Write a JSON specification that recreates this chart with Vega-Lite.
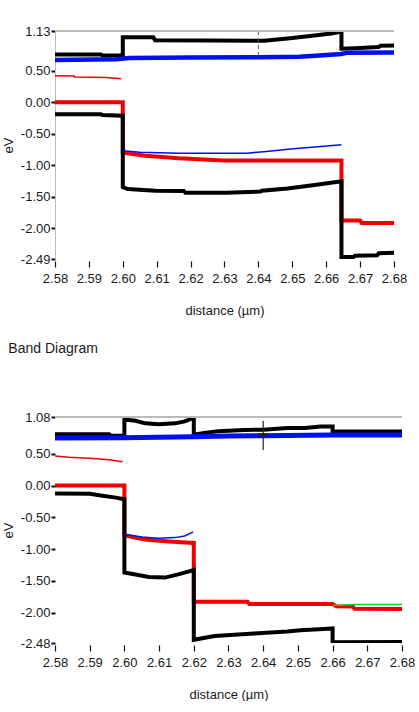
{
  "$schema": "https://vega.github.io/schema/vega-lite/v6.json",
  "background": "white",
  "padding": {"left": 2, "top": 25, "right": 0, "bottom": 0},
  "spacing": 25,
  "config": {
    "view": {"stroke": null},
    "axis": {
      "grid": false,
      "labelFont": "Liberation Sans Narrow, Liberation Sans, Arial, sans-serif",
      "labelFontSize": 13,
      "labelColor": "#1a1a1a",
      "titleFont": "Liberation Sans Narrow, Liberation Sans, Arial, sans-serif",
      "titleFontSize": 13,
      "titleFontWeight": "normal",
      "titleColor": "#1a1a1a",
      "tickColor": "#111111"
    },
    "axisX": {
      "domain": false,
      "offset": 2,
      "tickSize": 6,
      "tickWidth": 1.2,
      "labelPadding": 5,
      "labelOverlap": false,
      "labelFlush": false,
      "titlePadding": 19,
      "values": [2.58, 2.59, 2.6, 2.61, 2.62, 2.63, 2.64, 2.65, 2.66, 2.67, 2.68],
      "format": ".2f"
    },
    "axisY": {
      "domainColor": "#bbbbbb",
      "tickSize": 4,
      "tickWidth": 2,
      "labelPadding": 1,
      "titlePadding": 5,
      "labelOverlap": false,
      "labelFlush": false,
      "labelExpr": "replace(format(datum.value, '.2f'), '\u2212', '-')"
    },
    "title": {
      "font": "Liberation Sans Narrow, Liberation Sans, Arial, sans-serif",
      "fontSize": 14,
      "fontWeight": "normal",
      "color": "#1a1a1a"
    }
  },
  "datasets": {
    "top": [
      {"band": "Fp", "i": 0, "x": 2.58, "y": 0.0},
      {"band": "Fp", "i": 1, "x": 2.6, "y": 0.0},
      {"band": "Fp", "i": 2, "x": 2.6, "y": -0.8},
      {"band": "Fp", "i": 3, "x": 2.6066, "y": -0.85},
      {"band": "Fp", "i": 4, "x": 2.6166, "y": -0.89},
      {"band": "Fp", "i": 5, "x": 2.6296, "y": -0.925},
      {"band": "Fp", "i": 6, "x": 2.6645, "y": -0.925},
      {"band": "Fp", "i": 7, "x": 2.6645, "y": -1.88},
      {"band": "Fp", "i": 8, "x": 2.67, "y": -1.88},
      {"band": "Fp", "i": 9, "x": 2.6705, "y": -1.92},
      {"band": "Fp", "i": 10, "x": 2.68, "y": -1.92},

      {"band": "Ec", "i": 0, "x": 2.58, "y": 0.755},
      {"band": "Ec", "i": 1, "x": 2.5935, "y": 0.755},
      {"band": "Ec", "i": 2, "x": 2.594, "y": 0.74},
      {"band": "Ec", "i": 3, "x": 2.6, "y": 0.74},
      {"band": "Ec", "i": 4, "x": 2.6, "y": 1.03},
      {"band": "Ec", "i": 5, "x": 2.609, "y": 1.03},
      {"band": "Ec", "i": 6, "x": 2.6095, "y": 0.985},
      {"band": "Ec", "i": 7, "x": 2.625, "y": 0.98},
      {"band": "Ec", "i": 8, "x": 2.6417, "y": 0.975},
      {"band": "Ec", "i": 9, "x": 2.6486, "y": 1.01},
      {"band": "Ec", "i": 10, "x": 2.6546, "y": 1.045},
      {"band": "Ec", "i": 11, "x": 2.6615, "y": 1.09},
      {"band": "Ec", "i": 12, "x": 2.6645, "y": 1.12},
      {"band": "Ec", "i": 13, "x": 2.6645, "y": 0.85},
      {"band": "Ec", "i": 14, "x": 2.67, "y": 0.86},
      {"band": "Ec", "i": 15, "x": 2.6755, "y": 0.875},
      {"band": "Ec", "i": 16, "x": 2.676, "y": 0.895},
      {"band": "Ec", "i": 17, "x": 2.68, "y": 0.9},

      {"band": "Ev", "i": 0, "x": 2.58, "y": -0.19},
      {"band": "Ev", "i": 1, "x": 2.5935, "y": -0.19},
      {"band": "Ev", "i": 2, "x": 2.594, "y": -0.205},
      {"band": "Ev", "i": 3, "x": 2.6, "y": -0.215},
      {"band": "Ev", "i": 4, "x": 2.6, "y": -1.35},
      {"band": "Ev", "i": 5, "x": 2.6015, "y": -1.38},
      {"band": "Ev", "i": 6, "x": 2.6096, "y": -1.405},
      {"band": "Ev", "i": 7, "x": 2.618, "y": -1.41},
      {"band": "Ev", "i": 8, "x": 2.6185, "y": -1.44},
      {"band": "Ev", "i": 9, "x": 2.6306, "y": -1.44},
      {"band": "Ev", "i": 10, "x": 2.6406, "y": -1.42},
      {"band": "Ev", "i": 11, "x": 2.641, "y": -1.405},
      {"band": "Ev", "i": 12, "x": 2.6486, "y": -1.37},
      {"band": "Ev", "i": 13, "x": 2.6566, "y": -1.315},
      {"band": "Ev", "i": 14, "x": 2.6645, "y": -1.255},
      {"band": "Ev", "i": 15, "x": 2.6645, "y": -2.46},
      {"band": "Ev", "i": 16, "x": 2.668, "y": -2.46},
      {"band": "Ev", "i": 17, "x": 2.6685, "y": -2.44},
      {"band": "Ev", "i": 18, "x": 2.675, "y": -2.43},
      {"band": "Ev", "i": 19, "x": 2.6755, "y": -2.4},
      {"band": "Ev", "i": 20, "x": 2.68, "y": -2.39},

      {"band": "Fn", "i": 0, "x": 2.58, "y": 0.67},
      {"band": "Fn", "i": 1, "x": 2.598, "y": 0.68},
      {"band": "Fn", "i": 2, "x": 2.602, "y": 0.7},
      {"band": "Fn", "i": 3, "x": 2.62, "y": 0.71},
      {"band": "Fn", "i": 4, "x": 2.64, "y": 0.715},
      {"band": "Fn", "i": 5, "x": 2.652, "y": 0.72},
      {"band": "Fn", "i": 6, "x": 2.658, "y": 0.74},
      {"band": "Fn", "i": 7, "x": 2.6645, "y": 0.765},
      {"band": "Fn", "i": 8, "x": 2.666, "y": 0.785},
      {"band": "Fn", "i": 9, "x": 2.68, "y": 0.79},

      {"band": "FpThin", "i": 0, "x": 2.58, "y": 0.42},
      {"band": "FpThin", "i": 1, "x": 2.5857, "y": 0.415},
      {"band": "FpThin", "i": 2, "x": 2.5858, "y": 0.4},
      {"band": "FpThin", "i": 3, "x": 2.595, "y": 0.39},
      {"band": "FpThin", "i": 4, "x": 2.5995, "y": 0.37},

      {"band": "FnThin", "i": 0, "x": 2.6, "y": -0.77},
      {"band": "FnThin", "i": 1, "x": 2.605, "y": -0.795},
      {"band": "FnThin", "i": 2, "x": 2.6166, "y": -0.812},
      {"band": "FnThin", "i": 3, "x": 2.6366, "y": -0.81},
      {"band": "FnThin", "i": 4, "x": 2.6416, "y": -0.786},
      {"band": "FnThin", "i": 5, "x": 2.6495, "y": -0.744},
      {"band": "FnThin", "i": 6, "x": 2.6575, "y": -0.707},
      {"band": "FnThin", "i": 7, "x": 2.6645, "y": -0.675}
    ],
    "bottom": [
      {"band": "Fp", "i": 0, "x": 2.58, "y": 0.0},
      {"band": "Fp", "i": 1, "x": 2.6, "y": 0.0},
      {"band": "Fp", "i": 2, "x": 2.6, "y": -0.78},
      {"band": "Fp", "i": 3, "x": 2.603, "y": -0.82},
      {"band": "Fp", "i": 4, "x": 2.606, "y": -0.85},
      {"band": "Fp", "i": 5, "x": 2.61, "y": -0.87},
      {"band": "Fp", "i": 6, "x": 2.615, "y": -0.89},
      {"band": "Fp", "i": 7, "x": 2.62, "y": -0.905},
      {"band": "Fp", "i": 8, "x": 2.62, "y": -1.83},
      {"band": "Fp", "i": 9, "x": 2.6355, "y": -1.83},
      {"band": "Fp", "i": 10, "x": 2.636, "y": -1.865},
      {"band": "Fp", "i": 11, "x": 2.66, "y": -1.865},
      {"band": "Fp", "i": 12, "x": 2.661, "y": -1.9},
      {"band": "Fp", "i": 13, "x": 2.6658, "y": -1.905},
      {"band": "Fp", "i": 14, "x": 2.6663, "y": -1.94},
      {"band": "Fp", "i": 15, "x": 2.68, "y": -1.945},

      {"band": "Ec", "i": 0, "x": 2.58, "y": 0.81},
      {"band": "Ec", "i": 1, "x": 2.5956, "y": 0.81},
      {"band": "Ec", "i": 2, "x": 2.596, "y": 0.79},
      {"band": "Ec", "i": 3, "x": 2.6, "y": 0.785},
      {"band": "Ec", "i": 4, "x": 2.6, "y": 1.04},
      {"band": "Ec", "i": 5, "x": 2.6032, "y": 1.02},
      {"band": "Ec", "i": 6, "x": 2.606, "y": 0.98},
      {"band": "Ec", "i": 7, "x": 2.6098, "y": 0.965},
      {"band": "Ec", "i": 8, "x": 2.6146, "y": 0.98},
      {"band": "Ec", "i": 9, "x": 2.6174, "y": 1.01},
      {"band": "Ec", "i": 10, "x": 2.62, "y": 1.07},
      {"band": "Ec", "i": 11, "x": 2.62, "y": 0.8},
      {"band": "Ec", "i": 12, "x": 2.623, "y": 0.83},
      {"band": "Ec", "i": 13, "x": 2.627, "y": 0.855},
      {"band": "Ec", "i": 14, "x": 2.6345, "y": 0.875},
      {"band": "Ec", "i": 15, "x": 2.64, "y": 0.88},
      {"band": "Ec", "i": 16, "x": 2.647, "y": 0.905},
      {"band": "Ec", "i": 17, "x": 2.652, "y": 0.905},
      {"band": "Ec", "i": 18, "x": 2.6565, "y": 0.93},
      {"band": "Ec", "i": 19, "x": 2.66, "y": 0.93},
      {"band": "Ec", "i": 20, "x": 2.66, "y": 0.85},
      {"band": "Ec", "i": 21, "x": 2.68, "y": 0.85},

      {"band": "Ev", "i": 0, "x": 2.58, "y": -0.125},
      {"band": "Ev", "i": 1, "x": 2.59, "y": -0.13},
      {"band": "Ev", "i": 2, "x": 2.5937, "y": -0.16},
      {"band": "Ev", "i": 3, "x": 2.5975, "y": -0.19},
      {"band": "Ev", "i": 4, "x": 2.6, "y": -0.215},
      {"band": "Ev", "i": 5, "x": 2.6, "y": -1.37},
      {"band": "Ev", "i": 6, "x": 2.6032, "y": -1.4},
      {"band": "Ev", "i": 7, "x": 2.607, "y": -1.44},
      {"band": "Ev", "i": 8, "x": 2.6117, "y": -1.45},
      {"band": "Ev", "i": 9, "x": 2.6155, "y": -1.4},
      {"band": "Ev", "i": 10, "x": 2.6184, "y": -1.355},
      {"band": "Ev", "i": 11, "x": 2.62, "y": -1.33},
      {"band": "Ev", "i": 12, "x": 2.62, "y": -2.43},
      {"band": "Ev", "i": 13, "x": 2.626, "y": -2.37},
      {"band": "Ev", "i": 14, "x": 2.6317, "y": -2.35},
      {"band": "Ev", "i": 15, "x": 2.6374, "y": -2.33},
      {"band": "Ev", "i": 16, "x": 2.6469, "y": -2.3},
      {"band": "Ev", "i": 17, "x": 2.6507, "y": -2.28},
      {"band": "Ev", "i": 18, "x": 2.6574, "y": -2.26},
      {"band": "Ev", "i": 19, "x": 2.66, "y": -2.25},
      {"band": "Ev", "i": 20, "x": 2.66, "y": -2.47},
      {"band": "Ev", "i": 21, "x": 2.68, "y": -2.465},

      {"band": "Fn", "i": 0, "x": 2.58, "y": 0.75},
      {"band": "Fn", "i": 1, "x": 2.6, "y": 0.755},
      {"band": "Fn", "i": 2, "x": 2.62, "y": 0.77},
      {"band": "Fn", "i": 3, "x": 2.63, "y": 0.78},
      {"band": "Fn", "i": 4, "x": 2.64, "y": 0.785},
      {"band": "Fn", "i": 5, "x": 2.66, "y": 0.795},
      {"band": "Fn", "i": 6, "x": 2.68, "y": 0.795},

      {"band": "FpThin", "i": 0, "x": 2.58, "y": 0.465},
      {"band": "FpThin", "i": 1, "x": 2.584, "y": 0.445},
      {"band": "FpThin", "i": 2, "x": 2.59, "y": 0.43},
      {"band": "FpThin", "i": 3, "x": 2.5956, "y": 0.405},
      {"band": "FpThin", "i": 4, "x": 2.5995, "y": 0.375},

      {"band": "FnThin", "i": 0, "x": 2.6, "y": -0.768},
      {"band": "FnThin", "i": 1, "x": 2.6051, "y": -0.81},
      {"band": "FnThin", "i": 2, "x": 2.6098, "y": -0.83},
      {"band": "FnThin", "i": 3, "x": 2.6146, "y": -0.82},
      {"band": "FnThin", "i": 4, "x": 2.6174, "y": -0.794},
      {"band": "FnThin", "i": 5, "x": 2.6198, "y": -0.73},

      {"band": "FGreen", "i": 0, "x": 2.66, "y": -1.89},
      {"band": "FGreen", "i": 1, "x": 2.6663, "y": -1.875},
      {"band": "FGreen", "i": 2, "x": 2.68, "y": -1.875}
    ],
    "topCursor": [{"x": 2.64, "y": 1.13, "y2": 0.73}],
    "bottomCursor": [{"x": 2.64, "y": 1.02, "y2": 0.56}],
    "bottomCross": [{"x": 2.6385, "x2": 2.6415, "y": 0.8}]
  },
  "vconcat": [
    {
      "width": 339,
      "height": 228,
      "data": {"name": "top"},
      "encoding": {
        "x": {"field": "x", "type": "quantitative", "scale": {"domain": [2.58, 2.68], "nice": false, "zero": false}, "axis": {"title": "distance (µm)"}},
        "y": {"field": "y", "type": "quantitative", "scale": {"domain": [-2.49, 1.13], "nice": false, "zero": false}, "axis": {"title": "eV", "values": [1.13, 0.5, 0, -0.5, -1, -1.5, -2, -2.49]}},
        "detail": {"field": "band"},
        "order": {"field": "i"}
      },
      "layer": [
        {"transform": [{"filter": "datum.band === 'Fp'"}], "mark": {"type": "line", "color": "#f00000", "strokeWidth": 4, "strokeJoin": "miter", "strokeCap": "butt", "clip": true}},
        {"transform": [{"filter": "datum.band === 'Ec' || datum.band === 'Ev'"}], "mark": {"type": "line", "color": "#000000", "strokeWidth": 4, "strokeJoin": "miter", "strokeCap": "butt", "clip": true}},
        {"transform": [{"filter": "datum.band === 'Fn'"}], "mark": {"type": "line", "color": "#0010f0", "strokeWidth": 4.5, "strokeJoin": "miter", "strokeCap": "butt", "clip": true}},
        {"transform": [{"filter": "datum.band === 'FpThin'"}], "mark": {"type": "line", "color": "#f00000", "strokeWidth": 1.5, "clip": true}},
        {"transform": [{"filter": "datum.band === 'FnThin'"}], "mark": {"type": "line", "color": "#0010f0", "strokeWidth": 1.5, "clip": true}},
        {
          "data": {"name": "topCursor"},
          "mark": {"type": "rule", "color": "#555555", "strokeWidth": 1, "strokeDash": [4, 3]},
          "encoding": {"x": {"field": "x", "type": "quantitative"}, "y": {"field": "y", "type": "quantitative"}, "y2": {"field": "y2"}, "detail": null, "order": null}
        },
        {
          "mark": {"type": "rule", "color": "#bbbbbb", "strokeWidth": 1},
          "encoding": {"y": {"datum": 1.13, "type": "quantitative"}, "x": null, "detail": null, "order": null}
        }
      ]
    },
    {
      "width": 347,
      "height": 226,
      "data": {"name": "bottom"},
      "title": {"text": "Band Diagram", "anchor": "start", "frame": "bounds", "offset": 55, "dx": 6},
      "encoding": {
        "x": {"field": "x", "type": "quantitative", "scale": {"domain": [2.58, 2.68], "nice": false, "zero": false}, "axis": {"title": "distance (µm)"}},
        "y": {"field": "y", "type": "quantitative", "scale": {"domain": [-2.48, 1.08], "nice": false, "zero": false}, "axis": {"title": "eV", "domain": false, "values": [1.08, 0.5, 0, -0.5, -1, -1.5, -2, -2.48]}},
        "detail": {"field": "band"},
        "order": {"field": "i"}
      },
      "layer": [
        {"transform": [{"filter": "datum.band === 'Fp'"}], "mark": {"type": "line", "color": "#f00000", "strokeWidth": 4, "strokeJoin": "miter", "strokeCap": "butt", "clip": true}},
        {"transform": [{"filter": "datum.band === 'Ec' || datum.band === 'Ev'"}], "mark": {"type": "line", "color": "#000000", "strokeWidth": 4, "strokeJoin": "miter", "strokeCap": "butt", "clip": true}},
        {"transform": [{"filter": "datum.band === 'Fn'"}], "mark": {"type": "line", "color": "#0010f0", "strokeWidth": 5, "strokeJoin": "miter", "strokeCap": "butt", "clip": true}},
        {"transform": [{"filter": "datum.band === 'FpThin'"}], "mark": {"type": "line", "color": "#f00000", "strokeWidth": 1.5, "clip": true}},
        {"transform": [{"filter": "datum.band === 'FnThin'"}], "mark": {"type": "line", "color": "#0010f0", "strokeWidth": 1.5, "clip": true}},
        {"transform": [{"filter": "datum.band === 'FGreen'"}], "mark": {"type": "line", "color": "#22cc22", "strokeWidth": 1.5, "clip": true}},
        {
          "data": {"name": "bottomCursor"},
          "mark": {"type": "rule", "color": "#222222", "strokeWidth": 1.2},
          "encoding": {"x": {"field": "x", "type": "quantitative"}, "y": {"field": "y", "type": "quantitative"}, "y2": {"field": "y2"}, "detail": null, "order": null}
        },
        {
          "data": {"name": "bottomCross"},
          "mark": {"type": "rule", "color": "#222222", "strokeWidth": 3},
          "encoding": {"x": {"field": "x", "type": "quantitative"}, "x2": {"field": "x2"}, "y": {"field": "y", "type": "quantitative"}, "detail": null, "order": null}
        },
        {
          "mark": {"type": "rule", "color": "#bbbbbb", "strokeWidth": 1},
          "encoding": {"y": {"datum": 1.08, "type": "quantitative"}, "x": null, "detail": null, "order": null}
        }
      ]
    }
  ]
}
